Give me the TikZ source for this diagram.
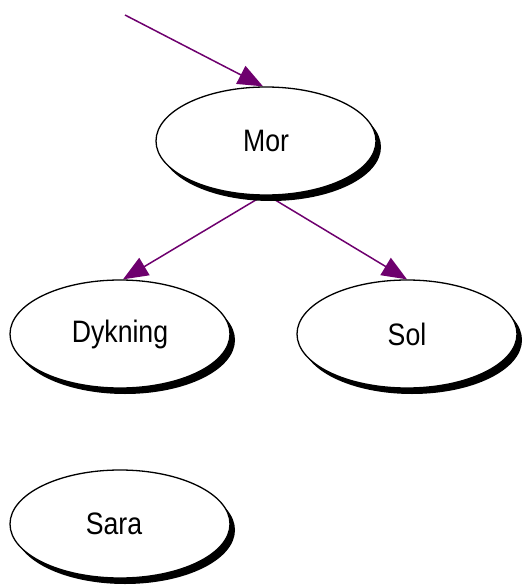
\documentclass[tikz,border=0pt]{standalone}
\usepackage{fontspec}
\newfontfamily\diafont[FakeStretch=0.86]{Liberation Sans}
\usetikzlibrary{shapes.geometric,shadows,arrows.meta}
\pgfdeclarelayer{background}
\pgfsetlayers{background,main}
\definecolor{linkpurple}{HTML}{6E006E}
\tikzset{
  concept/.style={ellipse, draw=black, line width=1.3pt, fill=white,
    minimum width=220pt, minimum height=108pt, inner sep=0pt,
    font=\diafont\fontsize{31}{31}\selectfont,
    drop shadow={shadow xshift=5pt, shadow yshift=-6pt, fill=black, opacity=1}},
  link/.style={draw=linkpurple, line width=1.5pt,
    -{Triangle[length=25pt,width=20pt]}, color=linkpurple}
}
\begin{document}
\begin{tikzpicture}[x=1pt,y=-1pt]
\useasboundingbox (0,0) rectangle (523,588);
\node[concept] (mor) at (266,141) {Mor};
\node[concept] (dyk) at (120,334) {Dykning};
\node[concept] (sol) at (407,334) {Sol};
\node[concept] (sara) at (120,524) {Sara\hspace*{12pt}};
\coordinate (src) at (125,15);
\begin{pgfonlayer}{background}
\draw[link] (src) -- ([xshift=-3pt]mor.north);
\draw[link] ([xshift=-3pt]mor.south) -- ([xshift=3pt]dyk.north);
\draw[link] ([xshift=2pt]mor.south) -- (sol.north);
\end{pgfonlayer}
\end{tikzpicture}
\end{document}
